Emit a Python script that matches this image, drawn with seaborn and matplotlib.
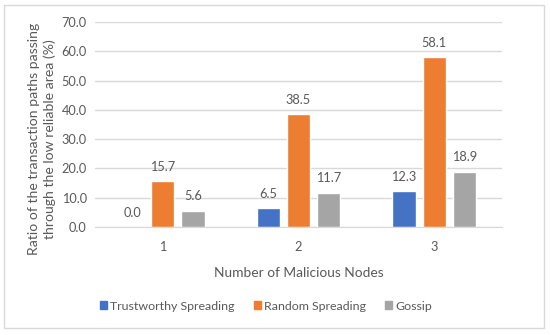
import pandas as pd
import matplotlib.pyplot as plt
import seaborn as sns
from matplotlib.patches import Rectangle

# Values
nodes = ['1', '2', '3']
trustworthy = [0.0, 6.5, 12.3]
random_spreading = [15.7, 38.5, 58.1]
gossip = [5.6, 11.7, 18.9]
series_names = ['Trustworthy Spreading', 'Random Spreading', 'Gossip']
colors = ['#4472C4', '#ED7D31', '#A5A5A5']
ylabel = 'Ratio of the transaction paths passing\nthrough the low reliable area (%)'

df = pd.DataFrame({
    'nodes': nodes * 3,
    'value': trustworthy + random_spreading + gossip,
    'series': [s for s in series_names for _ in nodes],
})

sns.set_style("white")
plt.rcParams['font.family'] = ['Lato', 'DejaVu Sans']
text_color = '#595959'

fig = plt.figure(figsize=(5.5, 3.35), dpi=100)
renderer = fig.canvas.get_renderer()

# pick a font size so a string gets roughly the pixel width seen in the picture
def size_for(s, target_px, base=10):
    t = fig.text(0, 0, s, fontsize=base)
    w = t.get_window_extent(renderer).width
    t.remove()
    return base * target_px / w

tick_size = size_for('70.0', 25)
title_size = size_for('Number of Malicious Nodes', 169)
ylab_size = size_for(ylabel.split('\n')[0], 232)
legend_size = size_for('Random Spreading', 103)

ax = fig.add_axes([95 / 550, 1 - 227 / 335, 407 / 550, 205 / 335])

sns.barplot(data=df, x='nodes', y='value', hue='series', palette=colors,
            width=0.667, gap=0.23, ax=ax, legend=False, saturation=1)

for cont in ax.containers:
    ax.bar_label(cont, fmt='%.1f', padding=6, fontsize=tick_size, color=text_color)

ax.set_ylim(0, 70)
ax.set_yticks(range(0, 71, 10))
ax.set_yticklabels([f'{v:.1f}' for v in range(0, 71, 10)])
ax.set_xlim(-0.5, 2.5)
ax.yaxis.grid(True, color='#D9D9D9', linewidth=1)
ax.set_axisbelow(True)
for side in ['top', 'right', 'left']:
    ax.spines[side].set_visible(False)
ax.spines['bottom'].set_color('#D9D9D9')
ax.tick_params(axis='both', length=0, labelsize=tick_size, labelcolor=text_color)
ax.tick_params(axis='y', pad=6)
ax.tick_params(axis='x', pad=10)

ax.set_xlabel('Number of Malicious Nodes', fontsize=title_size, color=text_color, labelpad=10)
ax.set_ylabel('')
fig.text(42 / 550, 1 - 139 / 335, ylabel,
         rotation=90, ha='center', va='center', fontsize=ylab_size, color=text_color,
         linespacing=1.35)

handles = [Rectangle((0, 0), 1, 1, color=c) for c in colors]
fig.legend(handles, series_names, loc='center', bbox_to_anchor=(266 / 550, 1 - 306 / 335),
           ncol=3, frameon=False, fontsize=legend_size, labelcolor=text_color,
           handlelength=0.55, handleheight=0.55, handletextpad=0.25, columnspacing=1.55)

fig.patches.append(Rectangle((4 / 550, 1 - 328 / 335), 540 / 550, 323 / 335,
                             transform=fig.transFigure, fill=False,
                             edgecolor='#D9D9D9', linewidth=1))

fig.savefig('out.png', dpi=100, facecolor='white')
